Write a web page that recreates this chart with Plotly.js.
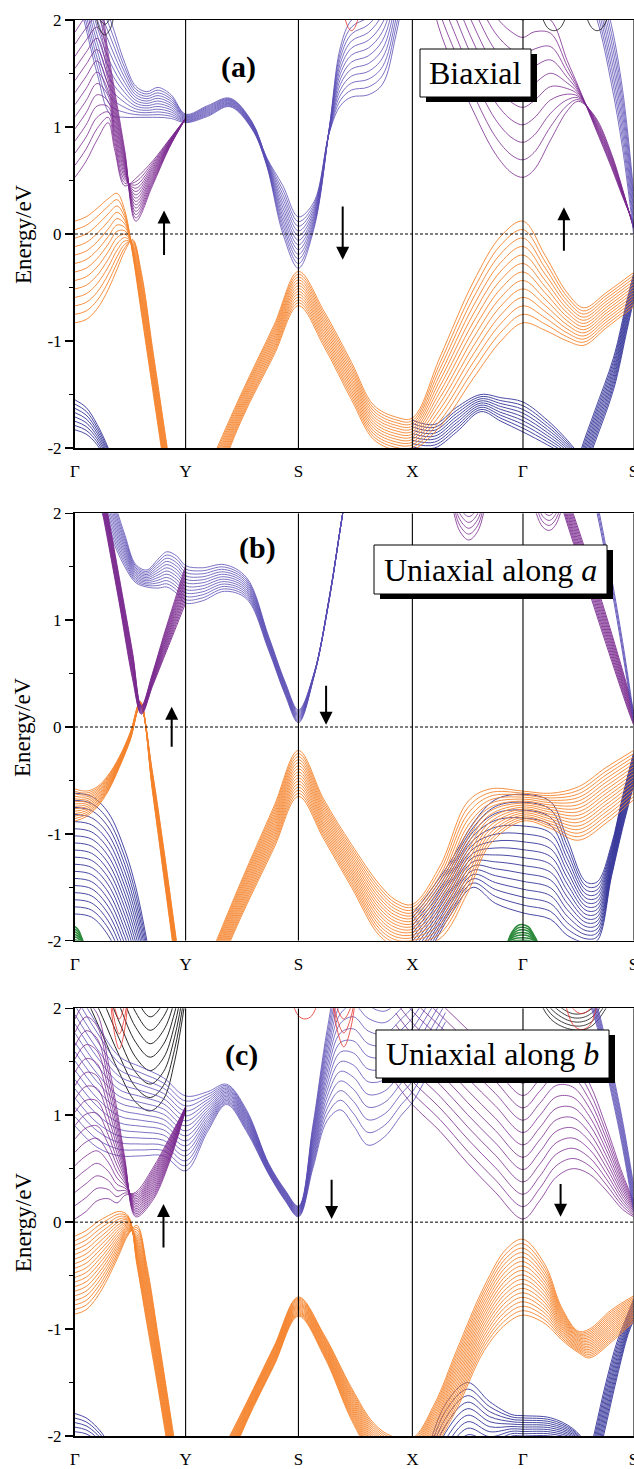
<!DOCTYPE html>
<html>
<head>
<meta charset="utf-8">
<script src="https://cdn.plot.ly/plotly-3.0.1.min.js"></script>
<style>
  html, body { margin: 0; padding: 0; background: #fff; }
  #chart { width: 634px; height: 1469px; }
</style>
</head>
<body>
<div id="chart"></div>
<script>
// High-symmetry path and its labels
const kNodes = [0, 1, 2.02, 3.05, 4.05, 5.05];
const kLabels = ['Γ', 'Y', 'S', 'X', 'Γ', 'S'];
const energyTicks = [-2, -1, 0, 1, 2];
const energyTickText = ['-2', '-1', '0', '1', '2'];

// Each band family: k samples, the two outermost members, member count.
// ---------- (a) Biaxial ----------
const aVbGK = [0, 0.1, 0.2, 0.3, 0.38, 0.45, 0.52, 0.6, 0.7, 0.8, 0.9];
const aVbGLo = [-0.83, -0.80, -0.70, -0.52, -0.33, -0.16, -0.05, -0.36, -1.06, -1.76, -2.46];
const aVbGHi = [0.12, 0.16, 0.24, 0.33, 0.38, 0.22, -0.18, -0.74, -1.44, -2.14, -2.84];

const aVbSK = [1.2, 1.5, 1.8, 2.02, 2.25, 2.5, 2.7, 2.9, 3.05, 3.3, 3.6, 3.85, 4.05, 4.25, 4.45, 4.6, 4.8, 5.05];
const aVbSLo = [-2.55, -1.75, -1.13, -0.67, -1.05, -1.55, -1.92, -2.02, -2.02, -1.80, -1.35, -1.00, -0.83, -0.90, -1.00, -1.04, -0.88, -0.68];
const aVbSHi = [-2.20, -1.50, -0.85, -0.35, -0.72, -1.20, -1.60, -1.71, -1.72, -1.15, -0.45, -0.02, 0.12, -0.20, -0.55, -0.69, -0.55, -0.36];

const aDbGK = [0, 0.1, 0.2, 0.3, 0.4];
const aDbGLo = [-1.83, -1.87, -1.97, -2.15, -2.40];
const aDbGHi = [-1.55, -1.62, -1.78, -2.00, -2.30];

const aDbXK = [3.05, 3.25, 3.45, 3.67, 3.85, 4.05, 4.27, 4.4, 4.51, 4.65];
const aDbXLo = [-1.99, -2.00, -1.85, -1.66, -1.75, -1.85, -1.97, -2.05, -2.15, -2.30];
const aDbXHi = [-1.74, -1.78, -1.62, -1.50, -1.53, -1.57, -1.74, -1.87, -2.00, -2.20];

const aDbSK = [4.5, 4.58, 4.7, 4.87, 4.99, 5.05];
const aDbSLo = [-2.60, -2.30, -1.95, -1.45, -0.90, -0.62];
const aDbSHi = [-2.30, -2.00, -1.65, -1.15, -0.62, -0.37];

const aCb1K = [0, 0.08, 0.2, 0.32, 0.45, 0.55, 0.65, 0.75, 0.87, 1.0, 1.2, 1.4, 1.6, 1.73, 1.88, 2.02, 2.16, 2.3, 2.4, 2.5, 2.65, 2.78, 2.9, 3.0];
const aCb1Lo = [2.30, 2.00, 1.50, 1.12, 1.09, 1.09, 1.09, 1.09, 1.08, 1.04, 1.10, 1.19, 0.98, 0.65, 0.00, -0.32, 0.05, 1.00, 1.75, 2.00, 2.10, 2.30, 2.70, 3.20];
const aCb1Hi = [3.00, 2.70, 2.30, 2.00, 1.60, 1.38, 1.33, 1.37, 1.30, 1.12, 1.20, 1.27, 1.05, 0.72, 0.45, 0.16, 0.30, 0.95, 1.20, 1.28, 1.30, 1.40, 1.85, 2.40];

const aPb1K = [0, 0.1, 0.2, 0.3, 0.36, 0.45, 0.55, 0.7, 0.85, 1.0];
const aPb1Lo = [0.53, 0.68, 0.88, 1.04, 0.78, 0.45, 0.52, 0.68, 0.88, 1.08];
const aPb1Hi = [2.00, 2.15, 2.25, 1.69, 1.33, 0.78, 0.12, 0.45, 0.80, 1.08];

const aPb2K = [3.1, 3.27, 3.45, 3.6, 3.8, 3.95, 4.05, 4.15, 4.3, 4.45, 4.55, 4.7, 4.85, 4.95, 5.05];
const aPb2Lo = [3.00, 2.00, 1.50, 1.15, 0.75, 0.57, 0.53, 0.60, 0.88, 1.15, 1.24, 1.10, 0.75, 0.42, 0.05];
const aPb2Hi = [4.20, 3.50, 3.00, 2.60, 2.20, 2.05, 2.00, 2.05, 2.00, 1.62, 1.38, 1.00, 0.62, 0.35, 0.10];

const aCb2K = [4.6, 4.72, 4.85, 4.95, 5.05];
const aCb2Lo = [2.30, 2.00, 1.40, 0.80, 0.00];
const aCb2Hi = [2.80, 2.45, 1.95, 1.35, 0.40];

const aBk1K = [0.18, 0.22, 0.27, 0.32, 0.36];
const aBk1Lo = [2.10, 1.92, 1.86, 1.92, 2.10];
const aBk1Hi = [2.20, 2.02, 1.96, 2.02, 2.20];
const aBk2K = [4.2, 4.27, 4.33, 4.39, 4.46];
const aBk2Lo = [2.10, 1.93, 1.90, 1.93, 2.10];
const aBk3K = [4.6, 4.67, 4.72, 4.77, 4.84];
const aBk3Lo = [2.10, 1.93, 1.90, 1.93, 2.10];
const aRd1K = [2.42, 2.47, 2.5, 2.53, 2.58];
const aRd1Lo = [2.10, 1.93, 1.90, 1.93, 2.10];

// ---------- (b) Uniaxial along a ----------
const bVbGK = [0, 0.1, 0.2, 0.3, 0.4, 0.5, 0.59, 0.7, 0.8, 0.88, 0.95];
const bVbGLo = [-0.88, -0.84, -0.75, -0.60, -0.38, -0.12, 0.20, -0.42, -1.12, -1.72, -2.25];
const bVbGHi = [-0.58, -0.60, -0.56, -0.45, -0.28, -0.05, 0.24, -0.60, -1.38, -2.00, -2.55];

const bDbGK = [0, 0.15, 0.3, 0.45, 0.55, 0.65, 0.75];
const bDbGLo = [-1.75, -1.78, -1.95, -2.30, -2.60, -2.90, -3.20];
const bDbGHi = [-0.62, -0.65, -0.80, -1.15, -1.50, -2.00, -2.60];

const bGr1K = [-0.02, 0, 0.03, 0.06, 0.09];
const bGr1Lo = [-1.99, -1.99, -2.00, -2.02, -2.05];
const bGr1Hi = [-1.87, -1.87, -1.90, -1.97, -2.05];
const bGr2K = [3.9, 3.95, 4.0, 4.05, 4.1, 4.15, 4.2];
const bGr2Lo = [-2.05, -2.02, -2.02, -2.02, -2.02, -2.02, -2.05];
const bGr2Hi = [-2.05, -1.92, -1.86, -1.85, -1.87, -1.95, -2.05];

const bVbSK = [1.2, 1.5, 1.8, 2.02, 2.25, 2.5, 2.75, 2.9, 3.05, 3.3, 3.55, 3.75, 4.05, 4.3, 4.55, 4.8, 5.05];
const bVbSLo = [-2.50, -1.78, -1.13, -0.65, -1.05, -1.50, -1.95, -2.05, -2.05, -1.98, -1.55, -1.10, -0.88, -0.95, -1.06, -0.90, -0.68];
const bVbSHi = [-2.20, -1.45, -0.74, -0.22, -0.68, -1.10, -1.47, -1.62, -1.66, -1.30, -0.70, -0.58, -0.60, -0.62, -0.56, -0.38, -0.22];

const bDbXK = [3.05, 3.2, 3.4, 3.6, 3.8, 4.05, 4.3, 4.45, 4.62, 4.72, 4.85, 4.95, 5.05];
const bDbXLo = [-2.30, -2.10, -1.75, -1.50, -1.65, -1.74, -1.80, -1.95, -2.02, -2.00, -1.40, -0.95, -0.55];
const bDbXHi = [-1.75, -1.55, -1.25, -0.90, -0.68, -0.63, -0.70, -1.05, -1.45, -1.45, -1.10, -0.65, -0.24];

const bCb1K = [0.15, 0.3, 0.45, 0.55, 0.65, 0.75, 0.83, 0.92, 1.0, 1.15, 1.35, 1.55, 1.75, 1.9, 2.02, 2.16, 2.3, 2.42, 2.55];
const bCb1Lo = [2.30, 1.85, 1.50, 1.35, 1.31, 1.30, 1.31, 1.25, 1.16, 1.18, 1.27, 1.20, 0.72, 0.30, 0.04, 0.47, 1.20, 2.00, 2.80];
const bCb1Hi = [2.90, 2.30, 1.80, 1.52, 1.47, 1.57, 1.64, 1.60, 1.51, 1.49, 1.52, 1.40, 0.85, 0.42, 0.16, 0.50, 1.22, 2.00, 2.80];

const bPb1K = [0.1, 0.25, 0.4, 0.52, 0.6, 0.7, 0.8, 0.9, 1.0];
const bPb1Lo = [2.80, 2.00, 1.16, 0.45, 0.12, 0.38, 0.64, 0.90, 1.16];
const bPb1Hi = [3.00, 2.25, 1.40, 0.70, 0.20, 0.50, 0.85, 1.18, 1.51];

const bPb2K = [4.3, 4.42, 4.6, 4.8, 5.0, 5.05];
const bPb2Lo = [2.40, 2.00, 1.42, 0.78, 0.16, 0.02];
const bPb2Hi = [2.60, 2.25, 1.70, 1.05, 0.35, 0.15];

const bCb2K = [4.6, 4.72, 4.85, 4.95, 5.05];
const bCb2Lo = [2.50, 2.00, 1.30, 0.70, 0.05];
const bCb2Hi = [2.60, 2.10, 1.40, 0.80, 0.12];

const bPu1K = [3.3, 3.4, 3.48, 3.56, 3.64, 3.72, 3.82];
const bPu1Lo = [2.40, 2.10, 1.83, 1.75, 1.83, 2.10, 2.40];
const bPu1Hi = [2.60, 2.35, 2.05, 1.97, 2.05, 2.35, 2.60];
const bPu2K = [4.08, 4.17, 4.23, 4.29, 4.35, 4.44];
const bPu2Lo = [2.40, 2.00, 1.87, 1.84, 1.90, 2.20];
const bPu2Hi = [2.50, 2.20, 2.02, 1.98, 2.05, 2.35];

// ---------- (c) Uniaxial along b ----------
const cVbGK = [0, 0.1, 0.2, 0.3, 0.4, 0.48, 0.56, 0.65, 0.75, 0.9];
const cVbGLo = [-0.86, -0.82, -0.70, -0.52, -0.30, -0.12, -0.03, -0.41, -1.05, -2.05];
const cVbGHi = [-0.13, -0.08, 0.00, 0.06, 0.10, 0.06, -0.40, -0.95, -1.55, -2.50];

const cDbGK = [0, 0.1, 0.2, 0.28, 0.35];
const cDbGLo = [-1.96, -1.98, -2.05, -2.15, -2.30];
const cDbGHi = [-1.79, -1.83, -1.92, -2.03, -2.20];

const cVbSK = [1.3, 1.55, 1.8, 2.02, 2.25, 2.5, 2.7, 2.86, 3.05, 3.25, 3.45, 3.7, 3.9, 4.05, 4.25, 4.4, 4.55, 4.65, 4.85, 5.05];
const cVbSLo = [-2.50, -1.87, -1.34, -0.88, -1.25, -1.85, -2.20, -2.30, -2.30, -2.10, -1.75, -1.20, -0.95, -0.87, -0.95, -1.10, -1.22, -1.27, -1.12, -0.93];
const cVbSHi = [-2.20, -1.69, -1.16, -0.70, -1.05, -1.55, -1.88, -2.00, -2.02, -1.70, -1.20, -0.60, -0.25, -0.16, -0.40, -0.80, -1.02, -1.00, -0.82, -0.69];

const cDbXK = [3.2, 3.35, 3.55, 3.75, 3.95, 4.05, 4.3, 4.5, 4.65];
const cDbXLo = [-2.60, -2.30, -2.05, -2.10, -2.00, -2.00, -2.00, -2.05, -2.20];
const cDbXHi = [-2.10, -1.70, -1.50, -1.68, -1.80, -1.81, -1.83, -1.93, -2.10];

const cDbSK = [4.6, 4.7, 4.8, 4.9, 5.0, 5.05];
const cDbSLo = [-2.80, -2.35, -1.90, -1.45, -1.05, -0.92];
const cDbSHi = [-2.40, -1.95, -1.50, -1.12, -0.85, -0.72];

const cCb1K = [0.0, 0.2, 0.4, 0.6, 0.8, 1.0, 1.2, 1.37, 1.55, 1.75, 1.9, 2.02, 2.15, 2.28, 2.4, 2.52, 2.65, 2.8, 2.95, 3.05, 3.2, 3.35];
const cCb1Lo = [0.90, 0.70, 0.62, 0.62, 0.62, 0.48, 0.85, 1.10, 0.85, 0.45, 0.20, 0.05, 0.50, 0.95, 1.05, 0.90, 0.72, 0.80, 1.00, 1.12, 1.40, 1.70];
const cCb1Hi = [2.20, 1.85, 1.55, 1.45, 1.35, 1.18, 1.22, 1.29, 1.05, 0.55, 0.30, 0.15, 0.90, 1.80, 2.40, 2.60, 2.50, 2.40, 2.50, 2.60, 2.80, 3.00];

const cPb1K = [0, 0.1, 0.2, 0.3, 0.38, 0.45, 0.55, 0.7, 0.85, 1.0];
const cPb1Lo = [0.03, 0.10, 0.20, 0.22, 0.18, 0.25, 0.28, 0.50, 0.78, 1.08];
const cPb1Hi = [1.90, 2.05, 1.95, 1.50, 1.05, 0.60, 0.05, 0.20, 0.55, 1.05];

const cPb2K = [2.9, 3.05, 3.3, 3.55, 3.8, 4.05, 4.2, 4.35, 4.5, 4.65, 4.8, 4.95, 5.05];
const cPb2Lo = [1.30, 1.10, 0.85, 0.55, 0.28, 0.03, 0.20, 0.42, 0.50, 0.45, 0.30, 0.12, 0.05];
const cPb2Hi = [2.50, 2.30, 2.05, 1.80, 1.55, 1.30, 1.45, 1.60, 1.55, 1.30, 0.90, 0.45, 0.20];

const cCb2K = [4.55, 4.7, 4.85, 4.95, 5.05];
const cCb2Lo = [2.30, 1.90, 1.20, 0.70, 0.10];
const cCb2Hi = [2.50, 2.10, 1.45, 0.95, 0.35];

const cBk1K = [0.1, 0.25, 0.4, 0.55, 0.68, 0.8, 0.9, 1.0];
const cBk1Lo = [2.10, 1.75, 1.40, 1.12, 1.04, 1.15, 1.50, 2.10];
const cBk1Hi = [3.20, 2.90, 2.50, 2.10, 1.92, 2.05, 2.30, 2.70];
const cBk2K = [4.1, 4.3, 4.5, 4.65, 4.8, 4.95];
const cBk2Lo = [2.30, 1.90, 1.80, 1.82, 2.00, 2.40];
const cBk2Hi = [2.50, 2.10, 1.95, 1.98, 2.20, 2.60];
const cRd1K = [0.3, 0.36, 0.4, 0.44, 0.5];
const cRd1Lo = [2.30, 1.75, 1.62, 1.75, 2.30];
const cRd1Hi = [2.30, 2.00, 1.90, 2.00, 2.30];
const cRd2K = [1.95, 2.02, 2.08, 2.14, 2.21];
const cRd2Lo = [2.10, 1.93, 1.90, 1.93, 2.10];
const cRd3K = [2.3, 2.37, 2.43, 2.49, 2.56];
const cRd3Lo = [2.30, 1.80, 1.64, 1.80, 2.30];
const cRd3Hi = [2.30, 2.00, 1.90, 2.00, 2.30];
const cRd4K = [4.4, 4.5, 4.58, 4.66, 4.75];
const cRd4Lo = [2.20, 1.85, 1.80, 1.85, 2.20];
const cRd4Hi = [2.30, 2.00, 1.95, 2.00, 2.30];

// Colours
const ORANGE = '#f5832c';
const NAVY = '#34349a';
const SLATE = '#5b4eb5';
const PURPLE = '#7b2a8f';
const BLACK = '#111111';
const RED = '#e8302a';
const GREEN = '#2e8b3e';

const families = [
  // panel, k, lo, hi, members, colour, width
  [1, aDbGK, aDbGLo, aDbGHi, 8, NAVY, 0.9],
  [1, aDbXK, aDbXLo, aDbXHi, 9, NAVY, 0.9],
  [1, aDbSK, aDbSLo, aDbSHi, 10, NAVY, 0.9],
  [1, aVbGK, aVbGLo, aVbGHi, 13, ORANGE, 0.9],
  [1, aVbSK, aVbSLo, aVbSHi, 13, ORANGE, 0.9],
  [1, aPb2K, aPb2Lo, aPb2Hi, 10, PURPLE, 0.8],
  [1, aCb2K, aCb2Lo, aCb2Hi, 8, SLATE, 0.8],
  [1, aCb1K, aCb1Lo, aCb1Hi, 12, SLATE, 0.8],
  [1, aPb1K, aPb1Lo, aPb1Hi, 14, PURPLE, 0.8],
  [1, aBk1K, aBk1Lo, aBk1Hi, 2, BLACK, 0.8],
  [1, aBk2K, aBk2Lo, aBk2Lo, 1, BLACK, 0.8],
  [1, aBk3K, aBk3Lo, aBk3Lo, 1, BLACK, 0.8],
  [1, aRd1K, aRd1Lo, aRd1Lo, 1, RED, 0.8],

  [2, bDbGK, bDbGLo, bDbGHi, 18, NAVY, 0.9],
  [2, bGr1K, bGr1Lo, bGr1Hi, 6, GREEN, 1.5],
  [2, bGr2K, bGr2Lo, bGr2Hi, 8, GREEN, 1.5],
  [2, bDbXK, bDbXLo, bDbXHi, 16, NAVY, 0.9],
  [2, bVbGK, bVbGLo, bVbGHi, 14, ORANGE, 0.9],
  [2, bVbSK, bVbSLo, bVbSHi, 16, ORANGE, 0.9],
  [2, bPu1K, bPu1Lo, bPu1Hi, 5, PURPLE, 0.8],
  [2, bPu2K, bPu2Lo, bPu2Hi, 4, PURPLE, 0.8],
  [2, bPb2K, bPb2Lo, bPb2Hi, 10, PURPLE, 0.9],
  [2, bCb2K, bCb2Lo, bCb2Hi, 3, SLATE, 0.9],
  [2, bCb1K, bCb1Lo, bCb1Hi, 12, SLATE, 0.8],
  [2, bPb1K, bPb1Lo, bPb1Hi, 12, PURPLE, 0.9],

  [3, cDbGK, cDbGLo, cDbGHi, 5, NAVY, 0.9],
  [3, cDbXK, cDbXLo, cDbXHi, 10, NAVY, 0.9],
  [3, cDbSK, cDbSLo, cDbSHi, 10, NAVY, 0.9],
  [3, cVbGK, cVbGLo, cVbGHi, 18, ORANGE, 0.9],
  [3, cVbSK, cVbSLo, cVbSHi, 18, ORANGE, 0.9],
  [3, cBk1K, cBk1Lo, cBk1Hi, 8, BLACK, 0.9],
  [3, cBk2K, cBk2Lo, cBk2Hi, 5, BLACK, 0.8],
  [3, cPb2K, cPb2Lo, cPb2Hi, 12, PURPLE, 0.8],
  [3, cCb2K, cCb2Lo, cCb2Hi, 8, SLATE, 0.8],
  [3, cCb1K, cCb1Lo, cCb1Hi, 16, SLATE, 0.8],
  [3, cPb1K, cPb1Lo, cPb1Hi, 16, PURPLE, 0.8],
  [3, cRd1K, cRd1Lo, cRd1Hi, 3, RED, 0.8],
  [3, cRd2K, cRd2Lo, cRd2Lo, 1, RED, 0.8],
  [3, cRd3K, cRd3Lo, cRd3Hi, 3, RED, 0.8],
  [3, cRd4K, cRd4Lo, cRd4Hi, 2, RED, 0.8]
];

const traces = [];
families.forEach(([panel, k, lo, hi, n, color, width]) => {
  const xa = panel === 1 ? 'x' : 'x' + panel;
  const ya = panel === 1 ? 'y' : 'y' + panel;
  for (let i = 0; i < n; i++) {
    const t = n > 1 ? i / (n - 1) : 0;
    traces.push({
      x: k,
      y: k.map((_, j) => lo[j] + (hi[j] - lo[j]) * t),
      xaxis: xa, yaxis: ya,
      type: 'scatter', mode: 'lines',
      line: { color: color, width: width, shape: 'spline', smoothing: 1 },
      hoverinfo: 'skip', showlegend: false
    });
  }
});

const H = 1469, W = 634;
const SERIF = 'Liberation Serif';
// panel plot-area extents in pixels (top, bottom)
const panelPx = [[20, 448], [513.3, 940.7], [1008.3, 1436]];
const xDom = [75 / W, 633.6 / W];

const layout = {
  width: W, height: H,
  margin: { l: 0, r: 0, t: 0, b: 0 },
  paper_bgcolor: '#fff', plot_bgcolor: '#fff',
  showlegend: false,
  font: { family: SERIF, color: '#000' },
  shapes: [], annotations: []
};

panelPx.forEach(([top, bot], idx) => {
  const n = idx + 1;
  const xk = n === 1 ? 'xaxis' : 'xaxis' + n;
  const yk = n === 1 ? 'yaxis' : 'yaxis' + n;
  const xa = n === 1 ? 'x' : 'x' + n;
  const ya = n === 1 ? 'y' : 'y' + n;
  layout[xk] = {
    domain: xDom, anchor: ya, range: [0, kNodes[kNodes.length - 1]],
    tickmode: 'array', tickvals: kNodes, ticktext: kLabels,
    ticks: '', ticklabelstandoff: 7, ticklabeloverflow: 'allow',
    tickfont: { family: SERIF, size: 17, color: '#000' },
    showgrid: false, zeroline: false,
    showline: true, mirror: true, linecolor: '#000', linewidth: 1.5
  };
  layout[yk] = {
    domain: [1 - bot / H, 1 - top / H], anchor: xa, range: [-2, 2],
    tickmode: 'array', tickvals: energyTicks, ticktext: energyTickText,
    ticks: 'outside', ticklen: 8, tickwidth: 1.5, tickcolor: '#000',
    minor: { tickmode: 'linear', tick0: -2, dtick: 0.5, ticks: 'outside', ticklen: 4, tickwidth: 1.2, tickcolor: '#000', showgrid: false },
    tickfont: { family: SERIF, size: 17, color: '#000' },
    showgrid: false, zeroline: false,
    showline: true, linecolor: '#000', linewidth: 2
  };
  // vertical guides at high-symmetry points
  kNodes.slice(1).forEach(k => {
    layout.shapes.push({ type: 'line', xref: xa, yref: ya, x0: k, x1: k, y0: -2, y1: 2,
      line: { color: '#000', width: 1.1 }, layer: 'above' });
  });
  // Fermi level
  layout.shapes.push({ type: 'line', xref: xa, yref: ya, x0: 0, x1: kNodes[kNodes.length - 1], y0: 0, y1: 0,
    line: { color: '#000', width: 1, dash: '3px,2px' }, layer: 'above' });
  // axis title
  layout.annotations.push({ xref: 'paper', yref: 'paper', x: 23 / W, y: 1 - (top + bot) / 2 / H,
    text: 'Energy/eV', textangle: -90, showarrow: false,
    font: { family: SERIF, size: 23, color: '#000' }, xanchor: 'center', yanchor: 'middle' });
});

// panel tags
const panelTags = ['(a)', '(b)', '(c)'];
const panelTagPx = [[238, 67], [257, 548], [241, 1055]];
panelTags.forEach((txt, i) => {
  layout.annotations.push({ xref: 'paper', yref: 'paper', x: panelTagPx[i][0] / W, y: 1 - panelTagPx[i][1] / H,
    text: '<b>' + txt + '</b>', showarrow: false, xanchor: 'center', yanchor: 'middle',
    font: { family: SERIF, size: 30, color: '#000' } });
});

// strain-type boxes with drop shadow
const boxTexts = ['Biaxial', 'Uniaxial along <i>a</i>', 'Uniaxial along <i>b</i>'];
const boxPx = [[420, 49, 531, 97], [374, 545, 607, 594], [376, 1030, 609, 1078]];
boxTexts.forEach((txt, i) => {
  const [x0, y0, x1, y1] = boxPx[i];
  layout.shapes.push({ type: 'rect', xref: 'paper', yref: 'paper',
    x0: (x0 + 6) / W, x1: (x1 + 6) / W, y0: 1 - (y1 + 5) / H, y1: 1 - (y0 + 5) / H,
    fillcolor: '#000', line: { width: 0 }, layer: 'above' });
  layout.shapes.push({ type: 'rect', xref: 'paper', yref: 'paper',
    x0: x0 / W, x1: x1 / W, y0: 1 - y1 / H, y1: 1 - y0 / H,
    fillcolor: '#fff', line: { color: '#000', width: 1 }, layer: 'above' });
  layout.annotations.push({ xref: 'paper', yref: 'paper', x: (x0 + x1) / 2 / W, y: 1 - (y0 + y1) / 2 / H,
    text: txt, showarrow: false, xanchor: 'center', yanchor: 'middle',
    font: { family: SERIF, size: 32, color: '#000' } });
});

// spin arrows: [panel, k, tail E, head E]
const spinArrows = [
  [1, 0.805, -0.21, 0.22], [1, 2.42, 0.27, -0.24], [1, 4.42, -0.17, 0.25],
  [2, 0.874, -0.20, 0.19], [2, 2.27, 0.40, 0.02],
  [3, 0.80, -0.25, 0.17], [3, 2.32, 0.41, 0.03], [3, 4.39, 0.37, 0.05]
];
spinArrows.forEach(([p, k, e0, e1]) => {
  const xa = p === 1 ? 'x' : 'x' + p;
  const ya = p === 1 ? 'y' : 'y' + p;
  layout.annotations.push({ xref: xa, yref: ya, axref: xa, ayref: ya,
    x: k, y: e1, ax: k, ay: e0, text: '', showarrow: true,
    arrowhead: 2, arrowsize: 1.3, arrowwidth: 2, arrowcolor: '#000' });
});

Plotly.newPlot('chart', traces, layout, { staticPlot: true, displayModeBar: false });
</script>
</body>
</html>
